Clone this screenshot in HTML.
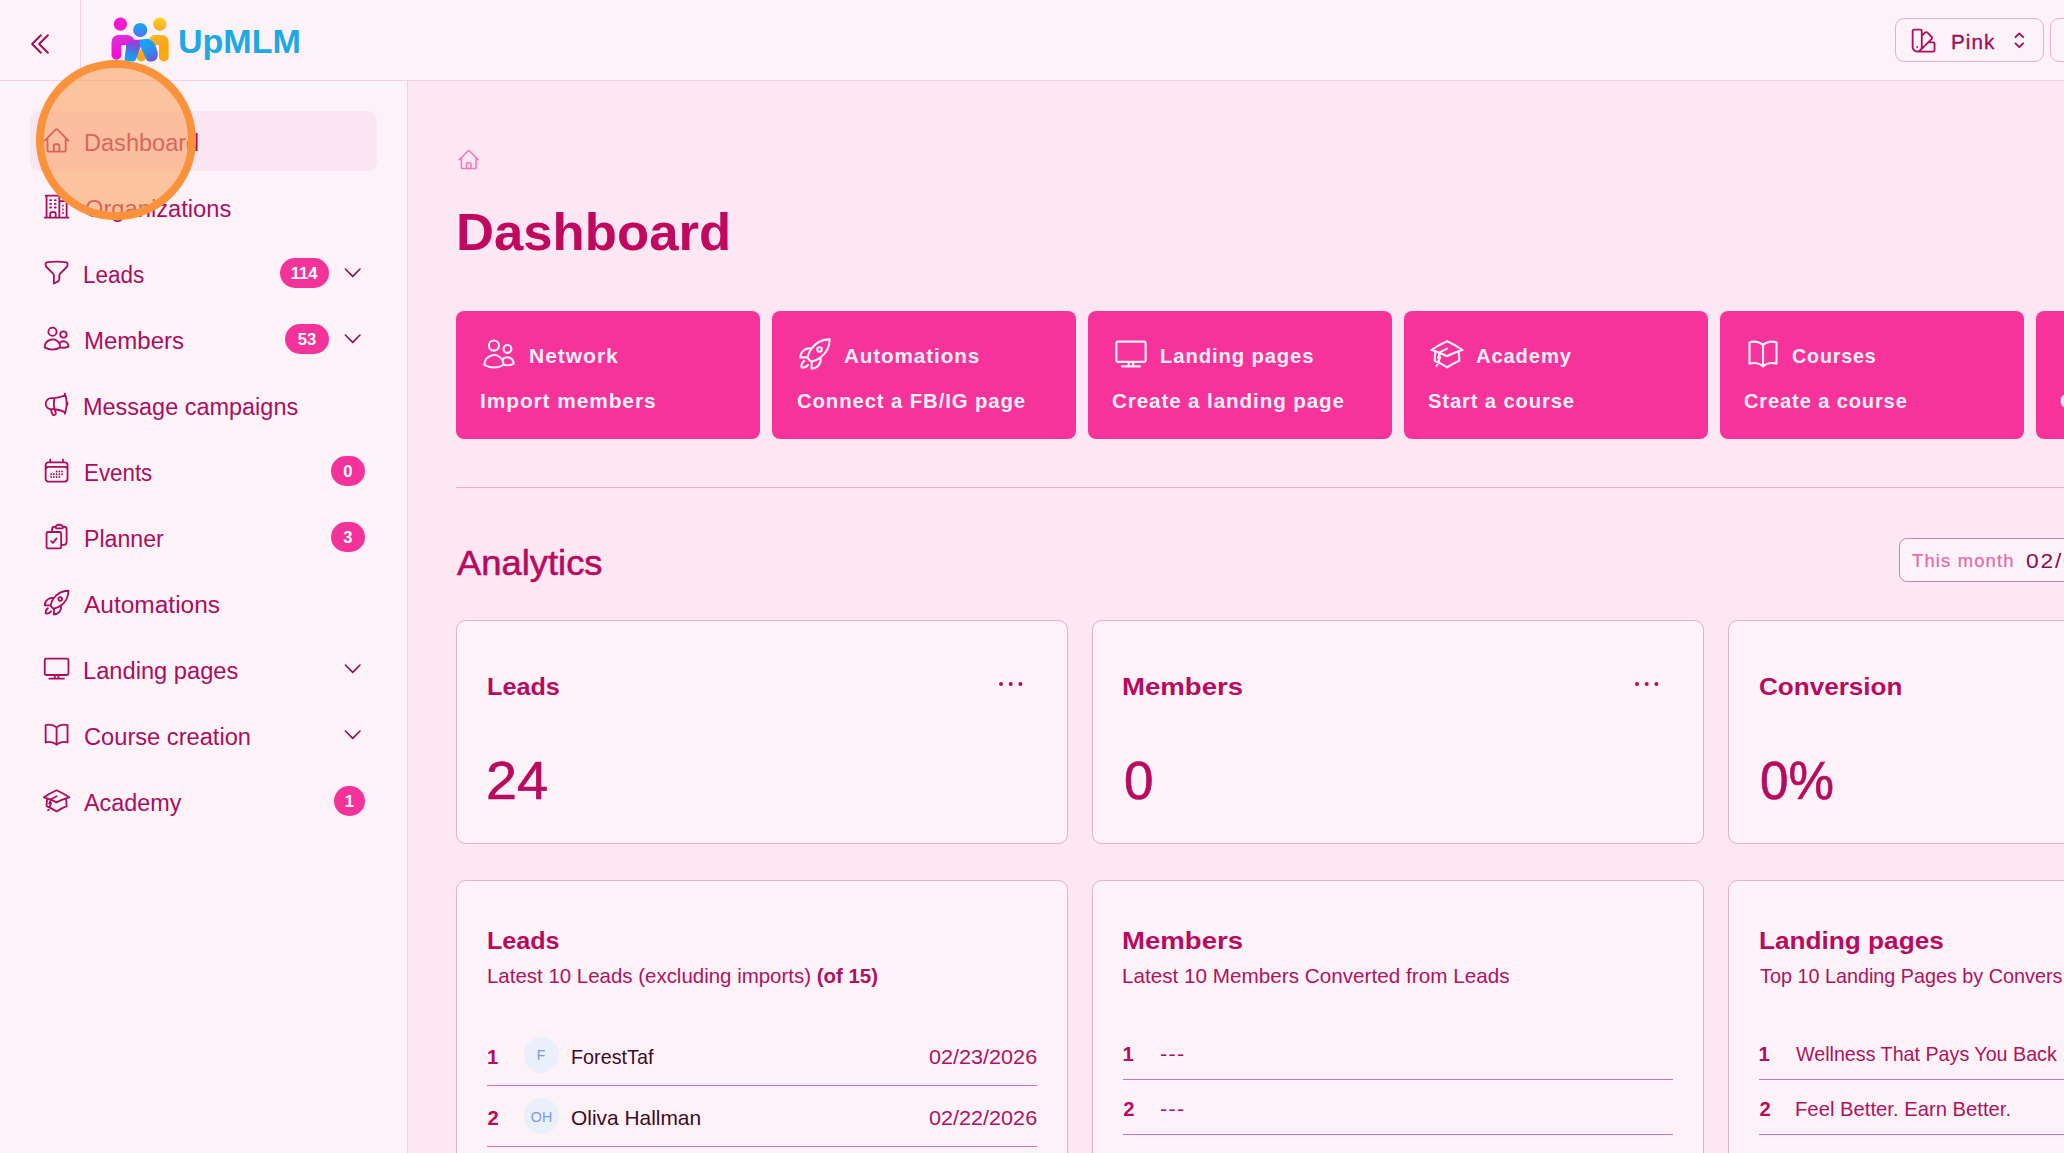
<!DOCTYPE html>
<html lang="en">
<head>
<meta charset="utf-8">
<title>UpMLM - Dashboard</title>
<style>
*,*:before,*:after{box-sizing:border-box;margin:0;padding:0}
html,body{width:2064px;height:1153px;overflow:hidden}
body{font-family:"Liberation Sans",sans-serif;background:#fce7f3;color:#a90f5e;position:relative}
header,nav,main,.nav,#theme{position:absolute;left:0;top:0;width:0;height:0}
svg{position:absolute;display:block;overflow:visible}
.ico{fill:none;stroke:currentColor;stroke-linecap:round;stroke-linejoin:round}
.t{position:absolute;display:block;line-height:1;white-space:nowrap;transform-origin:0 0;transform:scaleX(var(--k,1))}
#hdr:before{content:"";position:absolute;left:0;top:0;width:2064px;height:81px;background:#fdf2f8;border-bottom:1px solid #eed2e2}
#collapse{position:absolute;left:0;top:0;width:81px;height:80px;border-right:1px solid #eed2e2;color:#9c0c55}
#theme:before{content:"";position:absolute;left:1895px;top:18px;width:149px;height:44px;border:1px solid #e6b0cd;border-radius:9px}
#theme{color:#b00f60}
#next{position:absolute;left:2050px;top:18px;width:60px;height:44px;border:1px solid #e6b0cd;border-radius:9px}
#side:before{content:"";position:absolute;left:0;top:81px;width:408px;height:1072px;background:#fdf2f8;border-right:1px solid #eed2e2}
#active{position:absolute;left:30px;top:111px;width:347px;height:59.500px;border-radius:9px;background:#fce5f2}
.bdg{position:absolute;height:29.600px;border-radius:15px;background:#f4339a}
.qa{position:absolute;top:311px;width:304px;height:128px;border-radius:8px;background:#f5339b}
#hr{position:absolute;left:456px;top:487px;width:1700px;height:1px;background:#e6b0ce}
#range{position:absolute;left:1899px;top:538px;width:300px;height:44px;border:1px solid #d181b1;border-radius:8px;background:#fdf2f8}
.card{position:absolute;width:612px;border:1px solid #dfb1cd;border-radius:9.500px;background:#fdf2f8}
.dots{fill:#b80a5e}
.av{position:absolute;width:35.500px;height:35.500px;border-radius:50%;background:#e9f0fc}
.rl{position:absolute;width:550px;height:1px;background:#cf72ad}
#click{position:absolute;left:36.300px;top:60.300px;width:159.500px;height:159.500px;border-radius:50%;background:rgba(252,162,93,.58);border:8.700px solid #f9923a}
</style>
</head>
<body>
<header id="hdr">
<div id="collapse"><svg class="ico" style="left:26.00px;top:30.00px;stroke-width:1.65;" width="28" height="28" viewBox="0 0 24 24"><path d="M18.750 19.500l-7.500-7.500 7.500-7.500m-6 15L5.250 12l7.500-7.500"/></svg></div>
<svg id="logo" style="left:108px;top:12px" width="66" height="54" viewBox="108 12 66 54">
<defs>
<linearGradient id="gm" gradientUnits="userSpaceOnUse" x1="114" y1="36" x2="122" y2="60"><stop offset="0" stop-color="#d236dc"/><stop offset=".6" stop-color="#f312d0"/><stop offset="1" stop-color="#f50ccf"/></linearGradient>
<linearGradient id="gl" gradientUnits="userSpaceOnUse" x1="134" y1="39" x2="129" y2="61"><stop offset="0" stop-color="#c42ad6"/><stop offset=".3" stop-color="#7454dc"/><stop offset=".65" stop-color="#3683ea"/><stop offset="1" stop-color="#0aadf4"/></linearGradient>
<linearGradient id="gr" gradientUnits="userSpaceOnUse" x1="142" y1="41" x2="153" y2="61"><stop offset="0" stop-color="#10a8f2"/><stop offset=".5" stop-color="#2a93ec"/><stop offset="1" stop-color="#6b56dc"/></linearGradient>
<linearGradient id="gh" x1="0" y1="0" x2="0" y2="1"><stop offset="0" stop-color="#0fabf6"/><stop offset="1" stop-color="#5470e2"/></linearGradient>
<linearGradient id="gy" x1="0" y1="0" x2="0" y2="1"><stop offset="0" stop-color="#fdd31a"/><stop offset="1" stop-color="#f9a623"/></linearGradient>
<linearGradient id="gyb" gradientUnits="userSpaceOnUse" x1="150" y1="36" x2="164" y2="60"><stop offset="0" stop-color="#f6bd22"/><stop offset=".5" stop-color="#f9a31a"/><stop offset="1" stop-color="#fbab12"/></linearGradient>
</defs>
<g fill="none" stroke-linecap="round" stroke-linejoin="round">
<path d="M163.800 56.600V42.200q0-2.200-2.200-2.200h-7.200L141.300 56.500" stroke="url(#gyb)" stroke-width="9.800"/>
<path d="M116.400 54.800V42.200q0-2.200 2.200-2.200h7.400q3 0 4.400 2.600l1.600 3.400" stroke="url(#gm)" stroke-width="9.800"/>
</g>
<path d="M126.400 44Q129.300 39.700 134.500 39.700H141.200V45.200L136.100 59.300Q135.400 61.400 133 61.400H127.200Q124.300 61.400 124.600 58.500Z" fill="url(#gl)"/>
<path d="M139.600 39.700 147.500 38.800Q153.200 40.200 155.400 45.500L157.600 52Q158.500 56.500 156 59.700 154.500 61.500 151.800 61.500H149.600Q147.100 61.500 146.100 59L139.600 44.600Z" fill="url(#gr)"/>
<circle cx="120.400" cy="24.200" r="6.600" fill="#f418d0"/>
<circle cx="159.800" cy="24.200" r="6.600" fill="url(#gy)"/>
<circle cx="140.200" cy="30.100" r="7.100" fill="url(#gh)"/>
</svg>
<span class="t" id="t_logo" style="left:178.02px;top:24.81px;font-size:33.40px;--k:1.0192;font-weight:bold;color:#1da9e4">UpMLM</span>
<div id="theme">
<svg class="ico" style="left:1908.90px;top:25.80px;stroke-width:1.5;" width="29.2" height="29.2" viewBox="0 0 24 24"><path d="M4.098 19.902a3.750 3.750 0 005.304 0l6.401-6.402M6.750 21A3.750 3.750 0 013 17.250V4.125C3 3.504 3.504 3 4.125 3h5.250c.621 0 1.125.504 1.125 1.125v4.072M6.750 21a3.750 3.750 0 003.750-3.750V8.197M6.750 21h13.125c.621 0 1.125-.504 1.125-1.125v-5.250c0-.621-.504-1.125-1.125-1.125h-4.072M10.500 8.197l2.880-2.880c.438-.439 1.150-.439 1.590 0l3.712 3.713c.440.440.440 1.152 0 1.590l-2.879 2.880M6.750 17.250h.008v.008H6.750v-.008z"/></svg>
<span class="t" id="t_pink" style="left:1950.76px;top:31.71px;font-size:20.40px;--k:1.0151;color:#a00e58;letter-spacing:1px;-webkit-text-stroke:.35px currentColor">Pink</span>
<svg class="ico" style="left:2006.90px;top:27.90px;stroke-width:1.8;color:#a00e58" width="24.6" height="24.6" viewBox="0 0 24 24"><path d="M8.250 15L12 18.750 15.750 15m-7.500-6L12 5.250 15.750 9"/></svg>
</div><div id="next"></div>
</header>
<nav id="side">
<div id="active"></div>
<div class="nav">
<svg class="ico" style="left:42.40px;top:126.00px;stroke-width:1.5;" width="29.2" height="29.2" viewBox="0 0 24 24"><path d="M2.25 12l8.954-8.955c.44-.439 1.152-.439 1.591 0L21.75 12M4.5 9.75v10.125c0 .621.504 1.125 1.125 1.125H9.75v-4.875c0-.621.504-1.125 1.125-1.125h2.25c.621 0 1.125.504 1.125 1.125V21h4.125c.621 0 1.125-.504 1.125-1.125V9.75M8.25 21h8.25"/></svg>
<span class="t" id="t_nav0" style="left:83.98px;top:131.71px;font-size:23.30px;--k:1.0108;">Dashboard</span>
</div>
<div class="nav">
<svg class="ico" style="left:42.40px;top:192.00px;stroke-width:1.5;" width="29.2" height="29.2" viewBox="0 0 24 24"><path d="M2.25 21h19.5m-18-18v18m10.5-18v18m6-13.5V21M6.75 6.75h.75m-.75 3h.75m-.75 3h.75m3-6h.75m-.75 3h.75m-.75 3h.75M6.75 21v-3.375c0-.621.504-1.125 1.125-1.125h2.25c.621 0 1.125.504 1.125 1.125V21M3 3h12m-.75 4.5H21m-3.75 3.750h.008v.008h-.008v-.008zm0 3h.008v.008h-.008v-.008zm0 3h.008v.008h-.008v-.008z"/></svg>
<span class="t" id="t_nav1" style="left:84.87px;top:197.71px;font-size:23.30px;--k:1.0175;">Organizations</span>
</div>
<div class="nav">
<svg class="ico" style="left:42.40px;top:258.00px;stroke-width:1.5;" width="29.2" height="29.2" viewBox="0 0 24 24"><path d="M12 3c2.755 0 5.455.232 8.083.678.533.09.917.556.917 1.096v1.044a2.25 2.25 0 01-.659 1.591l-5.432 5.432a2.25 2.25 0 00-.659 1.591v2.927a2.25 2.25 0 01-1.244 2.013L9.75 21v-6.568a2.25 2.25 0 00-.659-1.591L3.659 7.409A2.25 2.25 0 013 5.818V4.774c0-.54.384-1.006.917-1.096A48.320 48.320 0 0112 3z"/></svg>
<span class="t" id="t_nav2" style="left:83.21px;top:263.71px;font-size:23.30px;--k:0.9627;">Leads</span>
<span class="bdg" style="left:280.0px;top:258.1px;width:49.2px"></span>
<span class="t" id="t_bdg2" style="left:290.77px;top:265.60px;font-size:16.60px;--k:1.0000;font-weight:bold;color:#fff">114</span>
<svg class="ico" style="left:341.30px;top:261.00px;stroke-width:1.6;color:#8a0c50" width="23.4" height="23.4" viewBox="0 0 24 24"><path d="M19.500 8.250l-7.500 7.500-7.500-7.500"/></svg>
</div>
<div class="nav">
<svg class="ico" style="left:42.40px;top:324.00px;stroke-width:1.5;" width="29.2" height="29.2" viewBox="0 0 24 24"><path d="M15 19.128a9.380 9.380 0 002.625.372 9.337 9.337 0 004.121-.952 4.125 4.125 0 00-7.533-2.493M15 19.128v-.003c0-1.113-.285-2.160-.786-3.070M15 19.128v.106A12.318 12.318 0 018.624 21c-2.331 0-4.512-.645-6.374-1.766l-.001-.109a6.375 6.375 0 0111.964-3.070M12 6.375a3.375 3.375 0 11-6.750 0 3.375 3.375 0 016.750 0zm8.250 2.250a2.625 2.625 0 11-5.250 0 2.625 2.625 0 015.250 0z"/></svg>
<span class="t" id="t_nav3" style="left:83.76px;top:329.71px;font-size:23.30px;--k:1.0308;">Members</span>
<span class="bdg" style="left:285.0px;top:324.1px;width:44.2px"></span>
<span class="t" id="t_bdg3" style="left:297.80px;top:331.60px;font-size:16.60px;--k:1.0000;font-weight:bold;color:#fff">53</span>
<svg class="ico" style="left:341.30px;top:327.00px;stroke-width:1.6;color:#8a0c50" width="23.4" height="23.4" viewBox="0 0 24 24"><path d="M19.500 8.250l-7.500 7.500-7.500-7.500"/></svg>
</div>
<div class="nav">
<svg class="ico" style="left:42.40px;top:390.00px;stroke-width:1.5;" width="29.2" height="29.2" viewBox="0 0 24 24"><path d="M10.340 15.840c-.688-.06-1.386-.09-2.090-.09H7.500a4.500 4.500 0 110-9h.750c.704 0 1.402-.03 2.090-.09m0 9.180c.253.962.584 1.892.985 2.783.247.550.06 1.210-.463 1.511l-.657.380c-.551.318-1.260.117-1.527-.461a20.845 20.845 0 01-1.440-4.282m3.102.069a18.030 18.030 0 01-.590-4.590c0-1.586.205-3.124.590-4.590m0 9.180a23.848 23.848 0 018.835 2.535M10.340 6.660a23.847 23.847 0 008.835-2.535m0 0A23.740 23.740 0 0018.795 3m.380 1.125a23.910 23.910 0 011.014 5.395m-1.014 8.855c-.118.380-.245.754-.380 1.125m.380-1.125a23.910 23.910 0 001.014-5.395m0-3.460c.495.413.811 1.035.811 1.730 0 .695-.316 1.317-.811 1.730m0-3.460a24.347 24.347 0 010 3.460"/></svg>
<span class="t" id="t_nav4" style="left:83.49px;top:395.71px;font-size:23.30px;--k:1.0070;">Message campaigns</span>
</div>
<div class="nav">
<svg class="ico" style="left:42.40px;top:456.00px;stroke-width:1.5;" width="29.2" height="29.2" viewBox="0 0 24 24"><path d="M6.750 3v2.250M17.250 3v2.250M3 18.750V7.500a2.250 2.250 0 012.250-2.250h13.500A2.250 2.250 0 0121 7.500v11.250m-18 0A2.250 2.250 0 005.250 21h13.500A2.250 2.250 0 0021 18.750m-18 0v-7.500A2.250 2.250 0 015.250 9h13.500A2.250 2.250 0 0121 11.250v7.500m-9-6h.008v.008H12v-.008zM12 15h.008v.008H12V15zm0 2.250h.008v.008H12v-.008zM9.750 15h.008v.008H9.750V15zm0 2.250h.008v.008H9.750v-.008zM7.500 15h.008v.008H7.500V15zm0 2.250h.008v.008H7.500v-.008zm6.750-4.500h.008v.008h-.008v-.008zm0 2.250h.008v.008h-.008V15zm0 2.250h.008v.008h-.008v-.008zm2.250-4.500h.008v.008H16.500v-.008zm0 2.250h.008v.008H16.500V15z"/></svg>
<span class="t" id="t_nav5" style="left:83.88px;top:461.71px;font-size:23.30px;--k:0.9588;">Events</span>
<span class="bdg" style="left:330.8px;top:456.1px;width:34.2px"></span>
<span class="t" id="t_bdg5" style="left:343.36px;top:463.60px;font-size:16.60px;--k:1.0000;font-weight:bold;color:#fff">0</span>
</div>
<div class="nav">
<svg class="ico" style="left:42.40px;top:522.00px;stroke-width:1.5;" width="29.2" height="29.2" viewBox="0 0 24 24"><path d="M11.350 3.836c-.065.210-.1.433-.1.664 0 .414.336.750.750.750h4.500a.750.750 0 00.750-.750 2.250 2.250 0 00-.1-.664m-5.800 0A2.251 2.251 0 0113.500 2.250H15c1.012 0 1.867.668 2.150 1.586m-5.800 0c-.376.023-.750.05-1.124.08C9.095 4.010 8.250 4.973 8.250 6.108V8.250m8.900-4.414c.376.023.750.05 1.124.08 1.131.094 1.976 1.057 1.976 2.192V16.500A2.250 2.250 0 0118 18.750h-2.250m-7.500-10.500H4.875c-.621 0-1.125.504-1.125 1.125v11.250c0 .621.504 1.125 1.125 1.125h9.750c.621 0 1.125-.504 1.125-1.125V18.750m-7.500-10.500h6.375c.621 0 1.125.504 1.125 1.125v9.375m-8.250-3l1.500 1.500 3-3.750"/></svg>
<span class="t" id="t_nav6" style="left:83.70px;top:527.71px;font-size:23.30px;--k:0.9927;">Planner</span>
<span class="bdg" style="left:330.8px;top:522.1px;width:34.2px"></span>
<span class="t" id="t_bdg6" style="left:343.28px;top:529.60px;font-size:16.60px;--k:1.0000;font-weight:bold;color:#fff">3</span>
</div>
<div class="nav">
<svg class="ico" style="left:42.40px;top:588.00px;stroke-width:1.5;" width="29.2" height="29.2" viewBox="0 0 24 24"><path d="M15.590 14.370a6 6 0 01-5.840 7.380v-4.800m5.840-2.580a14.980 14.980 0 006.160-12.120A14.980 14.980 0 009.631 8.410m5.960 5.960a14.926 14.926 0 01-5.841 2.580m-.119-8.540a6 6 0 00-7.381 5.840h4.800m2.581-5.840a14.927 14.927 0 00-2.580 5.840m2.699 2.700c-.103.021-.207.041-.311.06a15.090 15.090 0 01-2.448-2.448 14.900 14.900 0 01.06-.312m-2.240 2.390a4.493 4.493 0 00-1.757 4.306 4.493 4.493 0 004.306-1.758M16.500 9a1.500 1.500 0 11-3 0 1.500 1.500 0 013 0z"/></svg>
<span class="t" id="t_nav7" style="left:84.23px;top:593.71px;font-size:23.30px;--k:1.0508;">Automations</span>
</div>
<div class="nav">
<svg class="ico" style="left:42.40px;top:654.00px;stroke-width:1.5;" width="29.2" height="29.2" viewBox="0 0 24 24"><path d="M6 20.250h12m-7.500-3v3m3-3v3m-10.125-3h17.250c.621 0 1.125-.504 1.125-1.125V4.875c0-.621-.504-1.125-1.125-1.125H3.375c-.621 0-1.125.504-1.125 1.125v11.250c0 .621.504 1.125 1.125 1.125z"/></svg>
<span class="t" id="t_nav8" style="left:83.20px;top:659.71px;font-size:23.30px;--k:1.0162;">Landing pages</span>
<svg class="ico" style="left:341.30px;top:657.00px;stroke-width:1.6;color:#8a0c50" width="23.4" height="23.4" viewBox="0 0 24 24"><path d="M19.500 8.250l-7.500 7.500-7.500-7.500"/></svg>
</div>
<div class="nav">
<svg class="ico" style="left:42.40px;top:720.00px;stroke-width:1.5;" width="29.2" height="29.2" viewBox="0 0 24 24"><path d="M12 6.042A8.967 8.967 0 006 3.750c-1.052 0-2.062.180-3 .512v14.250A8.987 8.987 0 016 18c2.305 0 4.408.867 6 2.292m0-14.250a8.966 8.966 0 016-2.292c1.052 0 2.062.180 3 .512v14.250A8.987 8.987 0 0018 18a8.967 8.967 0 00-6 2.292m0-14.250v14.250"/></svg>
<span class="t" id="t_nav9" style="left:84.04px;top:725.71px;font-size:23.30px;--k:1.0155;">Course creation</span>
<svg class="ico" style="left:341.30px;top:723.00px;stroke-width:1.6;color:#8a0c50" width="23.4" height="23.4" viewBox="0 0 24 24"><path d="M19.500 8.250l-7.500 7.500-7.500-7.500"/></svg>
</div>
<div class="nav">
<svg class="ico" style="left:42.40px;top:786.00px;stroke-width:1.5;" width="29.2" height="29.2" viewBox="0 0 24 24"><path d="M4.260 10.147a60.436 60.436 0 00-.491 6.347A48.627 48.627 0 0112 20.904a48.627 48.627 0 018.232-4.410 60.460 60.460 0 00-.491-6.347m-15.482 0a50.570 50.570 0 00-2.658-.813A59.905 59.905 0 0112 3.493a59.902 59.902 0 0110.399 5.840c-.896.248-1.783.520-2.658.814m-15.482 0A50.697 50.697 0 0112 13.489a50.702 50.702 0 017.740-3.342M6.750 15a.750.750 0 100-1.500.750.750 0 000 1.500zm0 0v-3.675A55.378 55.378 0 0112 8.443m-7.007 11.550A5.981 5.981 0 006.750 15.750v-1.500"/></svg>
<span class="t" id="t_nav10" style="left:84.22px;top:791.71px;font-size:23.30px;--k:1.0019;">Academy</span>
<span class="bdg" style="left:334.2px;top:786.1px;width:30.7px"></span>
<span class="t" id="t_bdg10" style="left:344.68px;top:793.60px;font-size:16.60px;--k:1.0000;font-weight:bold;color:#fff">1</span>
</div>
</nav>
<main id="main">
<svg class="ico" style="left:456.50px;top:148.40px;stroke-width:1.6;color:#f07cbf" width="23.5" height="23.5" viewBox="0 0 24 24"><path d="M2.25 12l8.954-8.955c.44-.439 1.152-.439 1.591 0L21.75 12M4.5 9.75v10.125c0 .621.504 1.125 1.125 1.125H9.75v-4.875c0-.621.504-1.125 1.125-1.125h2.25c.621 0 1.125.504 1.125 1.125V21h4.125c.621 0 1.125-.504 1.125-1.125V9.75M8.25 21h8.25"/></svg>
<span class="t" id="t_h1" style="left:456.38px;top:206.41px;font-size:52.00px;--k:1.0129;font-weight:bold;color:#bf085e">Dashboard</span>
<div class="qa" style="left:456px"></div>
<svg class="ico" style="left:481.00px;top:336.20px;stroke-width:1.4;color:#fdeff8" width="36" height="36" viewBox="0 0 24 24"><path d="M15 19.128a9.380 9.380 0 002.625.372 9.337 9.337 0 004.121-.952 4.125 4.125 0 00-7.533-2.493M15 19.128v-.003c0-1.113-.285-2.160-.786-3.070M15 19.128v.106A12.318 12.318 0 018.624 21c-2.331 0-4.512-.645-6.374-1.766l-.001-.109a6.375 6.375 0 0111.964-3.070M12 6.375a3.375 3.375 0 11-6.750 0 3.375 3.375 0 016.750 0zm8.250 2.250a2.625 2.625 0 11-5.250 0 2.625 2.625 0 015.250 0z"/></svg>
<span class="t" id="t_qa0a" style="left:528.55px;top:345.51px;font-size:20.40px;--k:1.0336;font-weight:bold;color:#fdeff8;letter-spacing:.9px">Network</span>
<span class="t" id="t_qa0b" style="left:480.25px;top:391.01px;font-size:20.40px;--k:1.0238;font-weight:bold;color:#fdeff8;letter-spacing:.9px">Import members</span>
<div class="qa" style="left:772px"></div>
<svg class="ico" style="left:797.00px;top:336.20px;stroke-width:1.4;color:#fdeff8" width="36" height="36" viewBox="0 0 24 24"><path d="M15.590 14.370a6 6 0 01-5.840 7.380v-4.800m5.840-2.580a14.980 14.980 0 006.160-12.120A14.980 14.980 0 009.631 8.410m5.960 5.960a14.926 14.926 0 01-5.841 2.580m-.119-8.540a6 6 0 00-7.381 5.840h4.800m2.581-5.840a14.927 14.927 0 00-2.580 5.840m2.699 2.700c-.103.021-.207.041-.311.06a15.090 15.090 0 01-2.448-2.448 14.900 14.900 0 01.06-.312m-2.240 2.390a4.493 4.493 0 00-1.757 4.306 4.493 4.493 0 004.306-1.758M16.500 9a1.500 1.500 0 11-3 0 1.500 1.500 0 013 0z"/></svg>
<span class="t" id="t_qa1a" style="left:844.23px;top:345.51px;font-size:20.40px;--k:1.0113;font-weight:bold;color:#fdeff8;letter-spacing:.9px">Automations</span>
<span class="t" id="t_qa1b" style="left:796.52px;top:391.01px;font-size:20.40px;--k:0.9959;font-weight:bold;color:#fdeff8;letter-spacing:.9px">Connect a FB/IG page</span>
<div class="qa" style="left:1088px"></div>
<svg class="ico" style="left:1113.00px;top:336.20px;stroke-width:1.4;color:#fdeff8" width="36" height="36" viewBox="0 0 24 24"><path d="M6 20.250h12m-7.500-3v3m3-3v3m-10.125-3h17.250c.621 0 1.125-.504 1.125-1.125V4.875c0-.621-.504-1.125-1.125-1.125H3.375c-.621 0-1.125.504-1.125 1.125v11.250c0 .621.504 1.125 1.125 1.125z"/></svg>
<span class="t" id="t_qa2a" style="left:1159.90px;top:345.51px;font-size:20.40px;--k:0.9923;font-weight:bold;color:#fdeff8;letter-spacing:.9px">Landing pages</span>
<span class="t" id="t_qa2b" style="left:1111.80px;top:391.01px;font-size:20.40px;--k:1.0091;font-weight:bold;color:#fdeff8;letter-spacing:.9px">Create a landing page</span>
<div class="qa" style="left:1404px"></div>
<svg class="ico" style="left:1429.00px;top:336.20px;stroke-width:1.4;color:#fdeff8" width="36" height="36" viewBox="0 0 24 24"><path d="M4.260 10.147a60.436 60.436 0 00-.491 6.347A48.627 48.627 0 0112 20.904a48.627 48.627 0 018.232-4.410 60.460 60.460 0 00-.491-6.347m-15.482 0a50.570 50.570 0 00-2.658-.813A59.905 59.905 0 0112 3.493a59.902 59.902 0 0110.399 5.840c-.896.248-1.783.520-2.658.814m-15.482 0A50.697 50.697 0 0112 13.489a50.702 50.702 0 017.740-3.342M6.750 15a.750.750 0 100-1.500.750.750 0 000 1.500zm0 0v-3.675A55.378 55.378 0 0112 8.443m-7.007 11.550A5.981 5.981 0 006.750 15.750v-1.500"/></svg>
<span class="t" id="t_qa3a" style="left:1476.38px;top:345.51px;font-size:20.40px;--k:0.9878;font-weight:bold;color:#fdeff8;letter-spacing:.9px">Academy</span>
<span class="t" id="t_qa3b" style="left:1428.07px;top:391.01px;font-size:20.40px;--k:0.9885;font-weight:bold;color:#fdeff8;letter-spacing:.9px">Start a course</span>
<div class="qa" style="left:1720px"></div>
<svg class="ico" style="left:1745.00px;top:336.20px;stroke-width:1.4;color:#fdeff8" width="36" height="36" viewBox="0 0 24 24"><path d="M12 6.042A8.967 8.967 0 006 3.750c-1.052 0-2.062.180-3 .512v14.250A8.987 8.987 0 016 18c2.305 0 4.408.867 6 2.292m0-14.250a8.966 8.966 0 016-2.292c1.052 0 2.062.180 3 .512v14.250A8.987 8.987 0 0018 18a8.967 8.967 0 00-6 2.292m0-14.250v14.250"/></svg>
<span class="t" id="t_qa4a" style="left:1791.97px;top:345.51px;font-size:20.40px;--k:0.9629;font-weight:bold;color:#fdeff8;letter-spacing:.9px">Courses</span>
<span class="t" id="t_qa4b" style="left:1744.32px;top:391.01px;font-size:20.40px;--k:0.9830;font-weight:bold;color:#fdeff8;letter-spacing:.9px">Create a course</span>
<div class="qa" style="left:2036px"></div>
<svg class="ico" style="left:2061.00px;top:336.20px;stroke-width:1.4;color:#fdeff8" width="36" height="36" viewBox="0 0 24 24"><path d="M6.750 3v2.250M17.250 3v2.250M3 18.750V7.500a2.250 2.250 0 012.250-2.250h13.500A2.250 2.250 0 0121 7.500v11.250m-18 0A2.250 2.250 0 005.250 21h13.500A2.250 2.250 0 0021 18.750m-18 0v-7.500A2.250 2.250 0 015.250 9h13.500A2.250 2.250 0 0121 11.250v7.500m-9-6h.008v.008H12v-.008zM12 15h.008v.008H12V15zm0 2.250h.008v.008H12v-.008zM9.750 15h.008v.008H9.750V15zm0 2.250h.008v.008H9.750v-.008zM7.500 15h.008v.008H7.500V15zm0 2.250h.008v.008H7.500v-.008zm6.750-4.500h.008v.008h-.008v-.008zm0 2.250h.008v.008h-.008V15zm0 2.250h.008v.008h-.008v-.008zm2.250-4.500h.008v.008H16.500v-.008zm0 2.250h.008v.008H16.500V15z"/></svg>
<span class="t" id="t_qa5a" style="left:2107.38px;top:345.51px;font-size:20.40px;--k:0.9602;font-weight:bold;color:#fdeff8;letter-spacing:.9px">Events</span>
<span class="t" id="t_qa5b" style="left:2059.81px;top:391.01px;font-size:20.40px;--k:1.0073;font-weight:bold;color:#fdeff8;letter-spacing:.9px">Create an event</span>
<div id="hr"></div>
<span class="t" id="t_h2" style="left:456.74px;top:546.01px;font-size:35.80px;--k:1.0157;color:#b80a5e;-webkit-text-stroke:.6px currentColor">Analytics</span>
<div id="range"></div>
<span class="t" id="t_rng1" style="left:1911.58px;top:552.71px;font-size:17.60px;--k:1.0473;color:#e468ab;letter-spacing:1.1px;-webkit-text-stroke:.2px currentColor">This month</span>
<span class="t" id="t_rng2" style="left:2026.07px;top:551.41px;font-size:20.00px;--k:1.1400;color:#8e0a4e;letter-spacing:1.6px">02/01/2026 - 02/28/2026</span>
<section class="card" style="left:456px;top:620px;height:224px"></section>
<span class="t" id="t_st0a" style="left:486.55px;top:674.51px;font-size:24.00px;--k:1.0494;font-weight:bold;color:#b80a5e">Leads</span>
<svg class="dots" style="left:997.5px;top:681px" width="26" height="6" viewBox="0 0 26 6"><circle cx="3" cy="3" r="2"/><circle cx="12.700" cy="3" r="2"/><circle cx="22.400" cy="3" r="2"/></svg>
<span class="t" id="t_st0n" style="left:486.16px;top:752.91px;font-size:54.00px;--k:1.0311;color:#b80a5e;-webkit-text-stroke:.65px currentColor">24</span>
<section class="card" style="left:1092px;top:620px;height:224px"></section>
<span class="t" id="t_st1a" style="left:1122.19px;top:674.51px;font-size:24.00px;--k:1.1485;font-weight:bold;color:#b80a5e">Members</span>
<svg class="dots" style="left:1633.5px;top:681px" width="26" height="6" viewBox="0 0 26 6"><circle cx="3" cy="3" r="2"/><circle cx="12.700" cy="3" r="2"/><circle cx="22.400" cy="3" r="2"/></svg>
<span class="t" id="t_st1n" style="left:1123.81px;top:752.91px;font-size:54.00px;--k:0.9805;color:#b80a5e;-webkit-text-stroke:.65px currentColor">0</span>
<section class="card" style="left:1728px;top:620px;height:224px"></section>
<span class="t" id="t_st2a" style="left:1758.92px;top:674.51px;font-size:24.00px;--k:1.0865;font-weight:bold;color:#b80a5e">Conversion</span>
<span class="t" id="t_st2n" style="left:1759.97px;top:752.91px;font-size:54.00px;--k:0.9472;color:#b80a5e;-webkit-text-stroke:.65px currentColor">0%</span>
<section class="card" style="left:456px;top:880px;height:300px"></section>
<span class="t" id="t_li0a" style="left:486.91px;top:928.81px;font-size:24.00px;--k:1.0459;font-weight:bold;color:#b80a5e">Leads</span>
<span class="t" id="t_li0s" style="left:486.56px;top:966.31px;font-size:20.30px;--k:1.0084;color:#ae1360">Latest 10 Leads (excluding imports) <b>(of 15)</b></span>
<section class="card" style="left:1092px;top:880px;height:300px"></section>
<span class="t" id="t_li1a" style="left:1122.19px;top:928.81px;font-size:24.00px;--k:1.1485;font-weight:bold;color:#b80a5e">Members</span>
<span class="t" id="t_li1s" style="left:1122.47px;top:966.31px;font-size:20.30px;--k:1.0200;color:#ae1360">Latest 10 Members Converted from Leads</span>
<section class="card" style="left:1728px;top:880px;height:300px"></section>
<span class="t" id="t_li2a" style="left:1758.61px;top:928.81px;font-size:24.00px;--k:1.0913;font-weight:bold;color:#b80a5e">Landing pages</span>
<span class="t" id="t_li2s" style="left:1760.34px;top:966.31px;font-size:20.30px;--k:0.9752;color:#ae1360">Top 10 Landing Pages by Convers<span style="margin-left:3px">ion Rate</span></span>
<span class="t" id="t_l0n" style="left:487.10px;top:1046.71px;font-size:20.30px;--k:1.0000;font-weight:bold;color:#b80a5e">1</span>
<span class="av" style="left:523.500px;top:1037.3px"></span>
<span class="t" id="t_l0i" style="left:536.70px;top:1048.41px;font-size:14.20px;--k:1.0000;color:#8299da">F</span>
<span class="t" id="t_l0m" style="left:571.25px;top:1046.71px;font-size:20.30px;--k:0.9745;color:#3d0b26">ForestTaf</span>
<span class="t" id="t_l0d" style="left:929.12px;top:1046.71px;font-size:20.30px;--k:1.0654;color:#ae1360">02/23/2026</span>
<div class="rl" style="left:487px;top:1085px"></div>
<span class="t" id="t_l1n" style="left:487.38px;top:1107.81px;font-size:20.30px;--k:1.0000;font-weight:bold;color:#b80a5e">2</span>
<span class="av" style="left:523.500px;top:1098.2px"></span>
<span class="t" id="t_l1i" style="left:530.86px;top:1109.51px;font-size:14.20px;--k:1.0000;color:#8299da">OH</span>
<span class="t" id="t_l1m" style="left:570.66px;top:1107.81px;font-size:20.30px;--k:1.0306;color:#3d0b26">Oliva Hallman</span>
<span class="t" id="t_l1d" style="left:929.12px;top:1107.81px;font-size:20.30px;--k:1.0654;color:#ae1360">02/22/2026</span>
<div class="rl" style="left:487px;top:1146px"></div>
<span class="t" id="t_m0n" style="left:1122.55px;top:1043.71px;font-size:20.30px;--k:1.0000;font-weight:bold;color:#b80a5e">1</span>
<span class="t" id="t_m0m" style="left:1159.93px;top:1043.71px;font-size:20.30px;--k:1.0632;color:#ae1360;letter-spacing:1.2px">---</span>
<div class="rl" style="left:1123px;top:1079px"></div>
<span class="t" id="t_m1n" style="left:1123.17px;top:1098.81px;font-size:20.30px;--k:1.0000;font-weight:bold;color:#b80a5e">2</span>
<span class="t" id="t_m1m" style="left:1159.93px;top:1098.81px;font-size:20.30px;--k:1.0632;color:#ae1360;letter-spacing:1.2px">---</span>
<div class="rl" style="left:1123px;top:1134px"></div>
<span class="t" id="t_p0n" style="left:1758.51px;top:1043.71px;font-size:20.30px;--k:1.0000;font-weight:bold;color:#b80a5e">1</span>
<span class="t" id="t_p0m" style="left:1796.04px;top:1043.71px;font-size:20.30px;--k:0.9706;color:#ae1360">Wellness That Pays You Back</span>
<div class="rl" style="left:1759px;top:1079px"></div>
<span class="t" id="t_p1n" style="left:1759.43px;top:1098.81px;font-size:20.30px;--k:1.0000;font-weight:bold;color:#b80a5e">2</span>
<span class="t" id="t_p1m" style="left:1795.04px;top:1098.81px;font-size:20.30px;--k:0.9985;color:#ae1360">Feel Better. Earn Better.</span>
<div class="rl" style="left:1759px;top:1134px"></div>
</main>
<div id="click"></div>
</body>
</html>
